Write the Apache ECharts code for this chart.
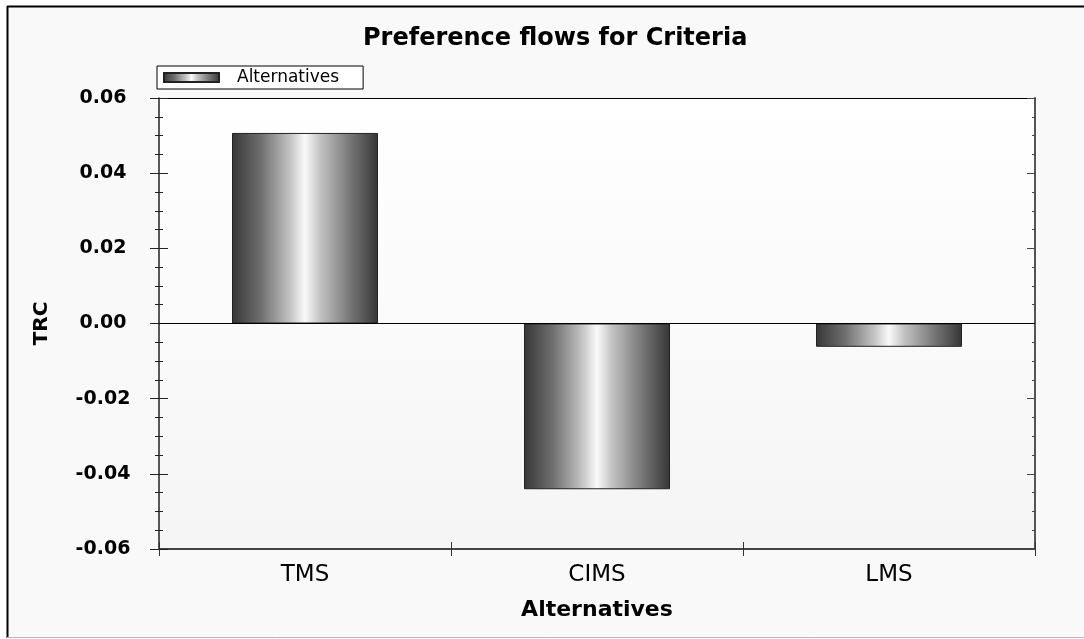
<!DOCTYPE html>
<html>
<head>
<meta charset="utf-8">
<script src="https://cdn.jsdelivr.net/npm/echarts@6/dist/echarts.min.js"></script>
<style>
html,body{margin:0;padding:0;background:#fff;}
#chart{width:1084px;height:639px;}
</style>
</head>
<body>
<div id="chart"></div>
<script>
const categories = ['TMS', 'CIMS', 'LMS'];
const values = [0.0507, -0.0441, -0.0062];
const seriesName = 'Alternatives';
const yMin = -0.06, yMax = 0.06, yInterval = 0.02;
const titleText = 'Preference flows for Criteria';
const xName = 'Alternatives';
const yName = 'TRC';

const FONT = 'DejaVu Sans';
const chart = echarts.init(document.getElementById('chart'));

const barGradient = new echarts.graphic.LinearGradient(0, 0, 1, 0, [
  {offset: 0, color: '#363636'},
  {offset: 0.2, color: '#707070'},
  {offset: 0.4, color: '#c4c4c4'},
  {offset: 0.5, color: '#fafafa'},
  {offset: 0.6, color: '#c4c4c4'},
  {offset: 0.8, color: '#7a7a7a'},
  {offset: 1, color: '#363636'}
]);

const valueAxisBase = {
  type: 'value', min: yMin, max: yMax, interval: yInterval,
  splitLine: {show: false}
};

const option = {
  backgroundColor: '#f9f9f9',
  animation: false,
  title: {
    text: titleText, left: 358, top: 22,
    textStyle: {fontFamily: FONT, fontWeight: 'bold', fontSize: 24, color: '#000'}
  },
  legend: {
    left: 157, top: 66,
    padding: [3, 24, 3, 6],
    borderColor: '#000', borderWidth: 1, backgroundColor: '#fff',
    itemWidth: 55, itemHeight: 9, icon: 'rect',
    textStyle: {fontFamily: FONT, fontSize: 17, color: '#000', padding: [0, 0, 0, 13], lineHeight: 16},
    data: [seriesName]
  },
  grid: {
    left: 159, right: 49, top: 98, bottom: 90, show: true, borderWidth: 0,
    backgroundColor: new echarts.graphic.LinearGradient(0, 0, 0, 1, [
      {offset: 0, color: '#ffffff'}, {offset: 1, color: '#f5f5f5'}
    ])
  },
  xAxis: [
    {
      type: 'category', data: categories, position: 'bottom',
      axisLine: {show: true, onZero: false, lineStyle: {color: '#444', width: 2}},
      axisTick: {show: true, length: 7, lineStyle: {color: '#333'}},
      axisLabel: {fontFamily: FONT, fontSize: 23, color: '#000', margin: 15},
      name: xName, nameLocation: 'middle', nameGap: 50,
      nameTextStyle: {fontFamily: FONT, fontWeight: 'bold', fontSize: 22, color: '#000'}
    },
    {
      type: 'category', data: categories, position: 'bottom',
      axisLine: {show: false, onZero: false},
      axisTick: {show: true, inside: true, length: 7, lineStyle: {color: '#333'}},
      axisLabel: {show: false}
    },
    {
      type: 'category', data: categories, position: 'top',
      axisLine: {show: true, onZero: false, lineStyle: {color: '#000', width: 1}},
      axisTick: {show: false}, axisLabel: {show: false}
    }
  ],
  yAxis: [
    Object.assign({}, valueAxisBase, {
      position: 'left',
      axisLine: {show: true, lineStyle: {color: '#222', width: 1.5}},
      axisTick: {show: true, length: 9, lineStyle: {color: '#222'}},
      minorTick: {show: true, splitNumber: 4, length: 4, lineStyle: {color: '#222'}},
      axisLabel: {
        fontFamily: FONT, fontWeight: 'bold', fontSize: 19, color: '#000',
        align: 'center', margin: 56,
        formatter: v => v.toFixed(2)
      },
      name: yName, nameLocation: 'middle', nameGap: 107,
      nameTextStyle: {fontFamily: FONT, fontWeight: 'bold', fontSize: 20, color: '#000'}
    }),
    Object.assign({}, valueAxisBase, {
      position: 'left',
      axisLine: {show: false},
      axisTick: {show: true, inside: true, length: 9, lineStyle: {color: '#222'}},
      minorTick: {show: true, splitNumber: 4, length: 4, lineStyle: {color: '#222'}},
      axisLabel: {show: false}
    }),
    Object.assign({}, valueAxisBase, {
      position: 'right',
      axisLine: {show: true, lineStyle: {color: '#555', width: 2}},
      axisTick: {show: true, inside: true, length: 8, lineStyle: {color: '#444'}},
      minorTick: {show: true, splitNumber: 4, length: 3, lineStyle: {color: '#444'}},
      axisLabel: {show: false}
    })
  ],
  series: [{
    name: seriesName, type: 'bar', xAxisIndex: 0, yAxisIndex: 0,
    data: values, barWidth: '50%',
    itemStyle: {color: barGradient, borderColor: '#222', borderWidth: 1},
    markLine: {
      silent: true, symbol: ['none', 'none'], label: {show: false},
      lineStyle: {color: '#000', width: 1, type: 'solid'},
      data: [{yAxis: 0}]
    }
  }],
  graphic: [
    {type: 'rect', shape: {x: 0, y: 0, width: 1084, height: 6}, style: {fill: '#fff'}, silent: true},
    {type: 'rect', shape: {x: 0, y: 0, width: 7, height: 639}, style: {fill: '#fff'}, silent: true},
    {type: 'line', shape: {x1: 7, y1: 6.5, x2: 1084, y2: 6.5}, style: {stroke: '#000', lineWidth: 2}, silent: true},
    {type: 'line', shape: {x1: 7.5, y1: 6, x2: 7.5, y2: 638}, style: {stroke: '#000', lineWidth: 2}, silent: true},
    {type: 'line', shape: {x1: 7, y1: 637.5, x2: 1084, y2: 637.5}, style: {stroke: '#bbb', lineWidth: 1}, silent: true}
  ]
};
chart.setOption(option);
</script>
</body>
</html>
